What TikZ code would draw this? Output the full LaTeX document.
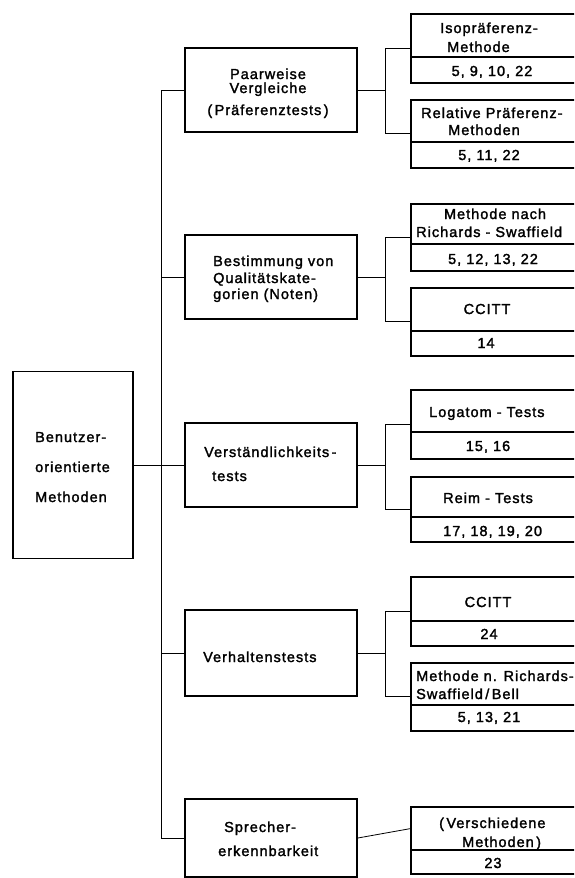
\documentclass[tikz,border=0pt]{standalone}
\usepackage{fontspec}
\usetikzlibrary{calc}
\newfontfamily\dfont[LetterSpace=7,FakeBold=1.8]{Liberation Sans}
\begin{document}
\begin{tikzpicture}[x=1pt,y=-1pt,
  bx/.style={draw, line width=1.7pt, inner sep=0pt},
  rb/.style={draw, line width=1.7pt, inner sep=0pt, minimum width=190pt, anchor=north west},
  ln/.style={line width=0.8pt},
  dv/.style={line width=1.1pt},
  lbl/.style={inner sep=0pt, font=\dfont\fontsize{14.5}{16}\selectfont, anchor=base west},
  lblc/.style={lbl, anchor=base}]
\useasboundingbox (0,0) rectangle (574,878);
\clip (0,0) rectangle (574,878);
% root
\node[bx, minimum width=120pt, minimum height=187pt] (root) at (73,465) {};
\node[lbl] (r1) at (35,442) {Benutzer-};
\node[lbl] (r2) at (35,472) {orientierte};
\node[lbl] (r3) at (35,502) {Methoden};
% first level
\node[bx, minimum width=172pt, minimum height=84pt] (paar) at (271,90) {};
\node[bx, minimum width=172pt, minimum height=84pt] (best) at (271,277) {};
\node[bx, minimum width=172pt, minimum height=84pt] (verst) at (271,465) {};
\node[bx, minimum width=172pt, minimum height=86pt] (verh) at (271,653) {};
\node[bx, minimum width=172pt, minimum height=78pt] (spr) at (271,838) {};
\node[lblc] (p1) at (268,79) {Paarweise};
\node[lblc] (p2) at (268,93) {Vergleiche};
\node[lblc] (p3) at (268,115) {(\,Präferenztests\,)};
\node[lbl] (b1) at (213,266) {Bestimmung von};
\node[lbl] (b2) at (213,283) {Qualitätskate-};
\node[lbl] (b3) at (213,299) {gorien (Noten)};
\node[lbl] (v1) at (204,457) {Verständlichkeits\,-};
\node[lbl] (v2) at (212,481) {tests};
\node[lbl] (h1) at (203,662) {Verhaltenstests};
\node[lbl] (s1) at (224,832) {Sprecher-};
\node[lbl] (s2) at (218,856) {erkennbarkeit};
% right boxes
\node[rb, minimum height=69pt] (iso) at (410,13) {};
\node[rb, minimum height=68pt] (rel) at (410,99) {};
\node[rb, minimum height=67pt] (meth) at (410,203) {};
\node[rb, minimum height=68pt] (cc1) at (410,287) {};
\node[rb, minimum height=69pt] (log) at (410,389) {};
\node[rb, minimum height=65pt] (reim) at (410,476) {};
\node[rb, minimum height=69pt] (cc2) at (410,576) {};
\node[rb, minimum height=68pt] (mrsb) at (410,662) {};
\node[rb, minimum height=67pt] (vers) at (410,806) {};
\foreach \yy in {57,142,244,331,432,517,621,705,850}
  \draw[dv] (410,\yy) -- (600,\yy);
\node[lbl] (t1) at (440,33) {Isopräferenz-};
\node[lbl] (t2) at (447,52) {Methode};
\node[lblc] (t3) at (492,76) {5, 9, 10, 22};
\node[lbl] (t4) at (421,118) {Relative Präferenz-};
\node[lbl] (t5) at (448,135) {Methoden};
\node[lblc] (t6) at (489,160) {5, 11, 22};
\node[lblc] (t7) at (495,219) {Methode nach};
\node[lbl] (t8) at (416,237) {Richards - Swaffield};
\node[lblc] (t9) at (493,264) {5, 12, 13, 22};
\node[lblc] (t10) at (487,314) {CCITT};
\node[lblc] (t11) at (486,348) {14};
\node[lbl] (t12) at (429,417) {Logatom - Tests};
\node[lblc] (t13) at (488,451) {15, 16};
\node[lbl] (t14) at (443,503) {Reim - Tests};
\node[lbl] (t15) at (443,536) {17, 18, 19, 20};
\node[lblc] (t16) at (488,607) {CCITT};
\node[lblc] (t17) at (489,639) {24};
\node[lbl] (t18) at (416,681) {Methode n. Richards-};
\node[lbl] (t19) at (416,699) {Swaffield\,/\,Bell};
\node[lblc] (t20) at (489,722) {5, 13, 21};
\node[lbl] (t21) at (439,828) {(\,Verschiedene};
\node[lbl] (t22) at (462,847) {Methoden\,)};
\node[lblc] (t23) at (493,868) {23};
% connectors
\coordinate (tk) at (161,0);
\coordinate (jx) at (385,0);
\draw[ln] (root.east) -- (verst.west);
\draw[ln] (paar.west) -- (paar.west -| tk) -- (spr.west -| tk) -- (spr.west);
\draw[ln] (best.west) -- (best.west -| tk);
\draw[ln] (verh.west) -- (verh.west -| tk);
\draw[ln] (paar.east) -- (paar.east -| jx);
\draw[ln] (iso.west) -- (iso.west -| jx) -- (rel.west -| jx) -- (rel.west);
\draw[ln] (best.east) -- (best.east -| jx);
\draw[ln] (meth.west) -- (meth.west -| jx) -- (cc1.west -| jx) -- (cc1.west);
\draw[ln] (verst.east) -- (verst.east -| jx);
\draw[ln] (log.west) -- (log.west -| jx) -- (reim.west -| jx) -- (reim.west);
\draw[ln] (verh.east) -- (verh.east -| jx);
\draw[ln] (cc2.west) -- (cc2.west -| jx) -- (mrsb.west -| jx) -- (mrsb.west);
\draw[ln] (spr.east) -- ($(vers.north west)!0.33!(vers.south west)$);
\end{tikzpicture}
\end{document}
